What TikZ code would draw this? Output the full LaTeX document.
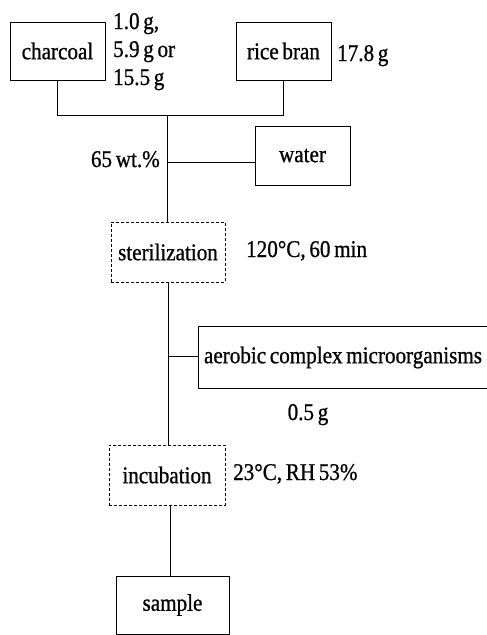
\documentclass[tikz,border=0pt]{standalone}
\usepackage{fontspec}
\setmainfont[FakeStretch=0.88,WordSpace=0.7,FakeBold=0.8]{Liberation Serif}
\begin{document}
\begin{tikzpicture}[x=1pt,y=-1pt,
  every node/.style={font=\fontsize{24}{26}\selectfont, inner sep=0pt},
  solidbox/.style={draw, line width=0.9pt},
  dashbox/.style={draw, line width=0.9pt, dash pattern=on 3pt off 2pt},
  conn/.style={line width=0.8pt},
  lbl/.style={anchor=base west}]
\useasboundingbox (0,0) rectangle (487,635);
% boxes
\node[solidbox, minimum width=95pt, minimum height=58pt] (charcoal) at (57.5,51) {charcoal};
\node[solidbox, minimum width=95pt, minimum height=58pt] (rice) at (283.5,51) {rice bran};
\node[solidbox, minimum width=95pt, minimum height=59pt] (water) at (302.5,155.5) {water};
\node[dashbox, minimum width=114pt, minimum height=60pt] (steril) at (168,252) {sterilization};
\node[minimum width=288pt, minimum height=61pt] (aerobic) at (343,357.5) {aerobic complex microorganisms};
\node[dashbox, minimum width=116pt, minimum height=60pt] (incub) at (167,475) {incubation};
\node[solidbox, minimum width=113pt, minimum height=58pt] (sample) at (172.5,605) {sample};
\draw[line width=0.9pt] (aerobic.north east) -- (aerobic.north west) -- (aerobic.south west) -- (aerobic.south east);
% labels
\node[lbl] (c1) at (113,29) {1.0 g,};
\node[lbl] (c2) at (113,57) {5.9 g or};
\node[lbl] (c3) at (113,85) {15.5 g};
\node[lbl] (rb) at (337,61) {17.8 g};
\node[anchor=base east] (wt) at (160,167) {65 wt.\%};
\node[lbl] (st) at (246,257) {120°C, 60 min};
\node[anchor=base] (mo) at (308,420) {0.5 g};
\node[lbl] (ic) at (233,480) {23°C, RH 53\%};
% connectors
\coordinate (j1) at (167,115);
\coordinate (j2) at (167,162);
\coordinate (j3) at (168,356);
\draw[conn] (charcoal.south) -- (charcoal.south |- j1) -- (rice.south |- j1) -- (rice.south);
\draw[conn] (j1) -- (steril.north -| j1);
\draw[conn] (j2) -- (j2 -| water.west);
\draw[conn] (steril.south) -- (incub.north -| steril.south);
\draw[conn] (j3) -- (j3 -| aerobic.west);
\draw[conn] ([xshift=3pt]incub.south) -- ([xshift=3pt]incub.south |- sample.north);
\end{tikzpicture}
\end{document}
